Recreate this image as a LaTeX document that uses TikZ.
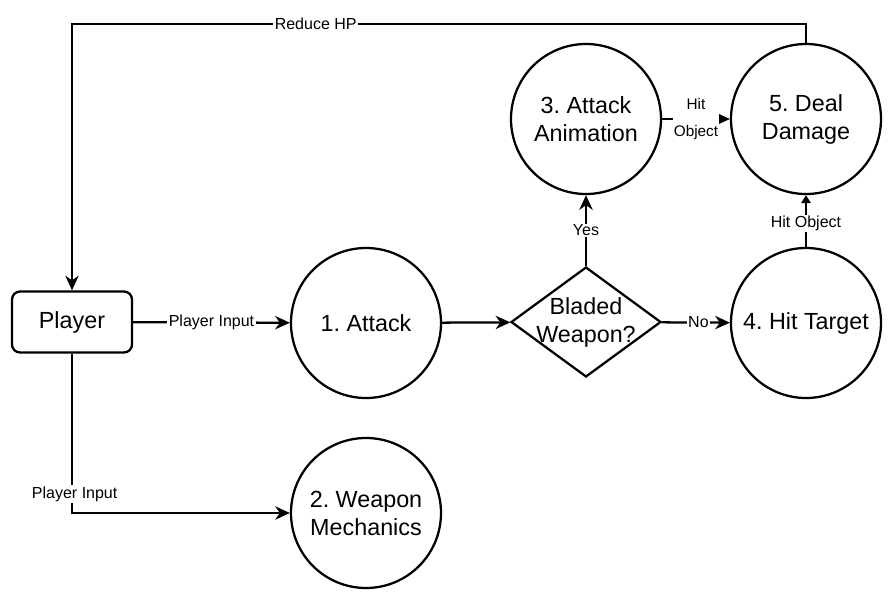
\documentclass[tikz,border=0pt]{standalone}
\usepackage{fontspec}
\setmainfont{Liberation Sans}
\usetikzlibrary{shapes.geometric,arrows.meta,positioning}
\frenchspacing

\def\flowCircleSize{112.5pt}
\def\flowLineWidth{1.7pt}
\def\flowNodeFont{\fontsize{17.5}{21}\selectfont}
\def\flowLabelFont{\fontsize{12}{14}\selectfont}

\tikzset{
    flowstate/.style = {circle, draw, line width = \flowLineWidth,
        minimum size = \flowCircleSize, inner sep = 0pt,
        align = center, font = \flowNodeFont},
    flowactor/.style = {rectangle, draw, rounded corners = 6pt,
        line width = \flowLineWidth, minimum width = 90pt,
        minimum height = 45.75pt, font = \flowNodeFont},
    flowchoice/.style = {diamond, draw, line width = \flowLineWidth,
        minimum width = 112.5pt, minimum height = 82.5pt, inner sep = 0pt},
    flowarrow/.style = {line width = \flowLineWidth,
        -{Stealth[length = 11pt, width = 10pt, inset = 3.5pt]}},
    flowlabel/.style = {fill = white, inner sep = 1pt, font = \flowLabelFont},
}

\begin{document}
\begin{tikzpicture}[x = 0.75pt, y = -0.75pt]
            \useasboundingbox (0,0) rectangle (893,599);
            %% states
            \node [flowactor] (player) at (72,322) {Player};
            \node [flowstate] (attack) at (366,323) {1. Attack};
            \node [flowstate] (weapon) at (366,513) {2. Weapon\\Mechanics};
            \node [flowchoice, label = {[font = \flowNodeFont, align = center]center:Bladed\\Weapon?}]
            (bladed) at (586,322) {};
            \node [flowstate] (anim) at (586,119) {3. Attack\\Animation};
            \node [flowstate] (hit) at (806,323) {4. Hit Target};
            \node [flowstate] (damage) at (806,119) {5. Deal\\Damage};
            \coordinate (hpTurn) at (806,24);
            %% connectors
            \draw [flowarrow] (player) -- node [flowlabel] {Player Input} (attack);
            \draw [flowarrow] (attack) -- (bladed);
            \draw [flowarrow] (bladed) -- node [flowlabel, xshift = 2pt] {No} (hit);
            \draw [flowarrow] (bladed) -- node [flowlabel] {Yes} (anim);
            \draw [flowarrow] (anim) -- node [flowlabel, align = center,
                font = \fontsize{11.5}{20}\selectfont] {Hit\\Object} (damage);
            \draw [line width = \flowLineWidth, -{Triangle[length = 6pt, width = 7pt]}]
            (hit) -- node [flowlabel, pos = 0.45] {Hit Object} (damage);
            %% back to the player
            \draw [flowarrow] (damage.north) -- (hpTurn)
            -| node [flowlabel, pos = 0.334] {Reduce HP} (player.north);
            \draw [flowarrow] (player.south)
            |- node [flowlabel, pos = 0.44, xshift = 2pt] {Player Input} (weapon.west);
        \end{tikzpicture}
\end{document}
